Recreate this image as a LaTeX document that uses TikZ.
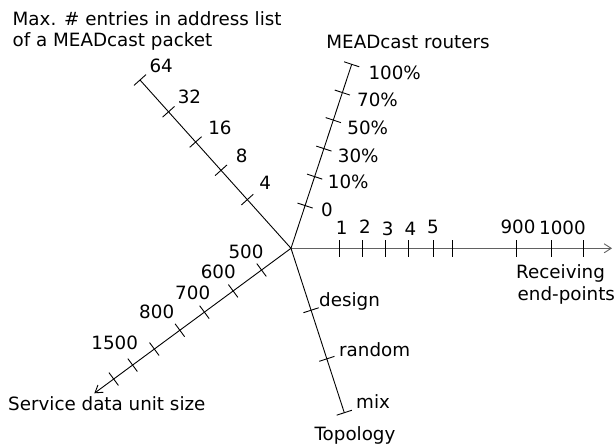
\documentclass[tikz,border=0pt]{standalone}
\usepackage{fontspec}
\setmainfont{DejaVu Sans}
\usetikzlibrary{calc,arrows.meta}
\newcommand\axtick[3]{%
  \coordinate (tk) at ($(#1)!#3!(#2)$);
  \draw[tickline] ($(tk)!8pt!90:(#2)$) -- ($(tk)!8pt!-90:(#2)$);}
\newcommand\lastmark[2]{%
  \draw[tickline] ($(#2)!8pt!90:(#1)$) -- ($(#2)!8pt!-90:(#1)$);}
\begin{document}
\begin{tikzpicture}[x=1pt,y=-1pt,
  lab/.style={inner sep=0pt, font=\fontsize{18.3}{22}\selectfont},
  axisline/.style={line width=0.9pt, black},
  haxis/.style={line width=1.5pt, black!62},
  tickline/.style={line width=0.9pt, black},
  arr/.style={-{Straight Barb[length=7pt,width=9pt,line width=0.9pt]}}]
\useasboundingbox (0,0) rectangle (616,445);
% axis points
\coordinate (O) at (291,248.3);
\coordinate (H) at (612,248.3);
\coordinate (R) at (351.7,64.3);
\coordinate (M) at (140,80);
\coordinate (S) at (94.3,393.3);
\coordinate (T) at (344.3,412.7);
% axes
\draw[haxis, arr] (O) -- (H);
\draw[axisline] (O) -- (R);
\draw[axisline] (O) -- (M);
\draw[axisline, arr] (O) -- (S);
\draw[axisline] (O) -- (T);
% horizontal ticks
\foreach \x in {339.3,362.3,385.7,408.7,433.3,452.7,516,551.7,583.3}
  \draw[tickline] (\x,240) -- (\x,257);
% router ticks
\foreach \d in {45pt,75.5pt,105pt,135pt,164pt} { \axtick{O}{R}{\d} }
\lastmark{O}{R}
% max ticks
\foreach \d in {65.4pt,104.8pt,142.8pt,183.4pt} { \axtick{O}{M}{\d} }
\lastmark{O}{M}
% sdu ticks
\foreach \d in {36.6pt,71.9pt,107.6pt,138.1pt,169.8pt,196.8pt,220.3pt} { \axtick{O}{S}{\d} }
% topology ticks
\foreach \d in {65.1pt,116.2pt} { \axtick{O}{T}{\d} }
\lastmark{O}{T}
% titles
\node[lab, anchor=base west] (t1) at (12.5,25) {Max. \# entries in address list};
\node[lab, anchor=base west] (t2) at (12.5,46.7) {of a MEADcast packet};
\node[lab, anchor=base] (tr) at (408,48.5) {MEADcast routers};
\node[lab, anchor=base west] (te1) at (516,278) {Receiving};
\node[lab, anchor=base west] (te2) at (517.5,300) {end-points};
\node[lab, anchor=base west] (ts) at (8,410) {Service data unit size};
\node[lab, anchor=base] (tt) at (355,440.5) {Topology};
% topology labels
\node[lab, anchor=base west] (ld) at (319,306) {design};
\node[lab, anchor=base west] (lr) at (339,356) {random};
\node[lab, anchor=base west] (lm) at (356,408.3) {mix};
% horizontal labels
\node[lab] (h1) at (341.7,228) {1};
\node[lab] (h2) at (365,226.7) {2};
\node[lab] (h3) at (387.7,229.3) {3};
\node[lab] (h4) at (410.5,228.5) {4};
\node[lab] (h5) at (433,227.3) {5};
\node[lab] (h900) at (518,227.3) {900};
\node[lab] (h1000) at (562.5,228) {1000};
% router labels
\node[lab] (r0) at (327,210) {0};
\node[lab] (r10) at (348.3,181.7) {10\%};
\node[lab] (r30) at (358.3,156) {30\%};
\node[lab] (r50) at (367.8,128.3) {50\%};
\node[lab] (r70) at (377.5,100.3) {70\%};
\node[lab] (r100) at (394.7,73) {100\%};
% max labels
\node[lab] (m4) at (265.3,183) {4};
\node[lab] (m8) at (241.7,156.3) {8};
\node[lab] (m16) at (220,128.2) {16};
\node[lab] (m32) at (189.5,97) {32};
\node[lab] (m64) at (161.2,65.5) {64};
% sdu labels
\node[lab] (s500) at (246,252.2) {500};
\node[lab] (s600) at (218.3,272.2) {600};
\node[lab] (s700) at (192.7,292.5) {700};
\node[lab] (s800) at (156.7,312.2) {800};
\node[lab] (s1500) at (114.7,343.3) {1500};
\end{tikzpicture}
\end{document}
